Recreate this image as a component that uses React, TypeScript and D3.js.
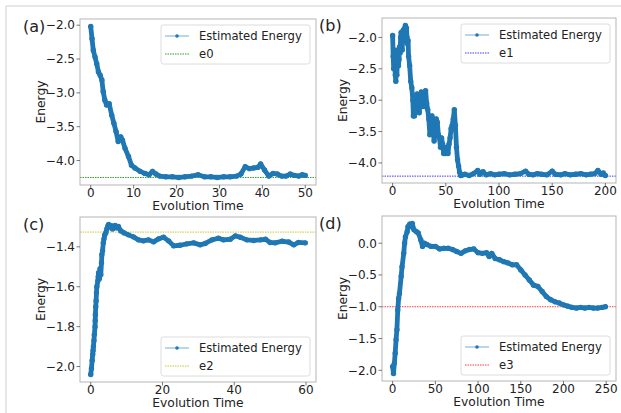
import React, { useEffect, useRef } from "react";
import * as d3 from "d3";

// [evolution time, estimated energy]
const seriesA: [number, number][] = [
  [0, -2.02], [0.3, -2.2], [0.6, -2.37], [1, -2.47], [1.4, -2.57], [1.8, -2.69], [2.2, -2.74],
  [2.6, -2.81], [2.9, -2.98], [3.3, -3.11], [3.7, -3.18], [4.3, -3.16], [4.9, -3.33], [5.4, -3.45],
  [5.9, -3.57], [6.4, -3.72], [7, -3.65], [7.4, -3.7], [8, -3.82], [8.8, -3.94], [9.5, -4.07],
  [10.3, -4.11], [11.5, -4.16], [12.6, -4.19], [13.6, -4.21], [14.4, -4.16], [15.2, -4.2],
  [16.1, -4.23], [17.5, -4.24], [19, -4.24], [20.5, -4.25], [22, -4.24], [23.5, -4.23], [25, -4.21],
  [26.5, -4.24], [28, -4.24], [29.5, -4.25], [31, -4.24], [32.5, -4.24], [34, -4.23], [35, -4.2],
  [36, -4.09], [37, -4.12], [38, -4.11], [39, -4.1], [39.6, -4.05], [40.5, -4.14], [41.5, -4.23],
  [42.5, -4.19], [43.5, -4.2], [44.5, -4.23], [45.5, -4.23], [46.5, -4.2], [47.5, -4.22],
  [48.5, -4.23], [49.3, -4.21], [50, -4.22],
];

const seriesB: [number, number][] = [
  [0, -1.97], [0.5, -2.3], [1, -2.5], [1.5, -2.2], [2, -2.4], [2.5, -2.6], [3, -2.7], [3.5, -2.5],
  [4, -2.6], [4.5, -2.35], [5, -2.2], [5.5, -2.45], [6, -2.35], [6.5, -2.15], [7, -2.25], [7.5, -2.0],
  [8, -1.92], [8.5, -2.1], [9, -2.2], [9.5, -1.95], [10, -1.88], [10.5, -2.05], [11, -2.0],
  [11.5, -1.85], [12, -1.81], [12.5, -1.9], [13, -1.85], [13.5, -2.0], [14, -2.1], [14.5, -2.05],
  [15, -2.3], [16, -2.45], [17, -2.7], [18, -2.8], [19, -3.0], [19.5, -3.25], [20, -3.1],
  [20.5, -3.25], [21, -3.05], [22, -3.15], [23, -2.9], [23.5, -3.05], [24, -3.0], [25, -3.2],
  [26, -3.0], [27, -2.87], [27.5, -3.0], [28, -3.1], [29, -2.95], [30, -3.1], [31, -2.85],
  [32, -3.05], [33, -3.15], [34, -3.3], [35, -3.55], [36, -3.3], [37, -3.25], [38, -3.45],
  [39, -3.65], [40, -3.5], [41, -3.3], [42, -3.35], [43, -3.55], [44, -3.6], [45, -3.75],
  [46, -3.6], [47, -3.7], [48, -3.85], [49, -3.8], [50, -3.85], [51, -3.75], [52, -3.85],
  [53, -3.7], [54, -3.6], [55, -3.45], [56, -3.4], [57, -3.3], [58, -3.15], [59, -3.4],
  [60, -3.75], [61, -3.95], [62, -4.05], [63, -4.15], [64, -4.2], [66, -4.19], [68, -4.18],
  [72, -4.2], [76, -4.17], [80, -4.12], [82, -4.18], [85, -4.14], [88, -4.19], [92, -4.17],
  [96, -4.19], [100, -4.18], [105, -4.17], [110, -4.19], [115, -4.18], [120, -4.17], [125, -4.13],
  [128, -4.18], [132, -4.19], [136, -4.17], [140, -4.18], [145, -4.19], [150, -4.13], [153, -4.18],
  [158, -4.19], [162, -4.17], [167, -4.19], [172, -4.18], [177, -4.17], [182, -4.19], [186, -4.18],
  [190, -4.17], [193, -4.12], [196, -4.18], [198, -4.16], [200, -4.2],
];

const seriesC: [number, number][] = [
  [0, -2.04], [0.2, -2.01], [0.4, -1.97], [0.55, -1.94], [0.65, -1.92], [0.75, -1.9], [0.9, -1.87],
  [1.0, -1.84], [1.2, -1.8], [1.25, -1.77], [1.3, -1.74], [1.4, -1.7], [1.5, -1.67], [1.6, -1.63],
  [1.7, -1.6], [2.0, -1.57], [2.1, -1.55], [2.2, -1.53], [2.4, -1.56], [2.6, -1.51], [2.8, -1.54],
  [3.0, -1.48], [3.1, -1.44], [3.3, -1.42], [3.5, -1.38], [3.7, -1.36], [3.9, -1.34], [4.2, -1.33],
  [4.5, -1.31], [4.8, -1.295], [5.0, -1.288], [5.4, -1.3], [5.8, -1.295], [6.1, -1.31], [6.5, -1.3],
  [6.8, -1.293], [7.3, -1.305], [7.7, -1.298], [8.4, -1.32], [9.3, -1.33], [10.5, -1.34],
  [11.9, -1.35], [13.3, -1.365], [14.7, -1.37], [16.1, -1.365], [17.5, -1.375], [18.9, -1.36],
  [20.3, -1.352], [21.7, -1.37], [23.1, -1.395], [24.9, -1.392], [26.8, -1.385], [28.7, -1.38],
  [30.5, -1.39], [31.9, -1.383], [33.8, -1.365], [35.6, -1.357], [37, -1.365], [38.9, -1.362],
  [40.3, -1.345], [41.7, -1.352], [43.5, -1.365], [45.4, -1.368], [47.3, -1.365], [48.7, -1.362],
  [50, -1.378], [51.4, -1.38], [53.3, -1.372], [55.2, -1.376], [56.6, -1.39], [57.9, -1.378],
  [59.8, -1.38],
];

const seriesD: [number, number][] = [
  [0, -1.94], [1, -2.05], [2, -1.89], [3, -1.73], [4, -1.52], [5, -1.36], [6, -1.05], [7, -0.87],
  [8, -0.79], [10, -0.52], [11, -0.37], [13, -0.16], [14, 0.0], [15, 0.1], [17, 0.18], [18, 0.26],
  [20, 0.3], [22, 0.26], [23, 0.31], [25, 0.21], [28, 0.18], [30, 0.16], [33, 0.05], [35, -0.05],
  [37, 0.0], [40, -0.02], [45, -0.05], [50, -0.05], [55, -0.09], [60, -0.08], [65, -0.08],
  [70, -0.1], [75, -0.13], [80, -0.16], [85, -0.12], [90, -0.1], [95, -0.09], [100, -0.15],
  [105, -0.16], [110, -0.15], [113, -0.21], [116, -0.16], [120, -0.24], [125, -0.26], [130, -0.29],
  [135, -0.31], [140, -0.34], [145, -0.34], [150, -0.42], [155, -0.5], [160, -0.58], [165, -0.66],
  [170, -0.68], [175, -0.76], [180, -0.84], [185, -0.89], [190, -0.92], [195, -0.94], [200, -0.97],
  [205, -0.99], [210, -1.01], [215, -1.02], [220, -1.01], [225, -1.02], [230, -1.01], [235, -1.02],
  [240, -1.02], [245, -1.01], [249, -1.0],
];

// exact energies (horizontal reference lines)
const exactEnergies = [-4.25, -4.21, -1.326, -1.0];
const exactNames = ["e0", "e1", "e2", "e3"];
const exactColors = ["#2ca02c", "#3b3bff", "#c8c832", "#ff3b3b"];

const panelLabels = ["(a)", "(b)", "(c)", "(d)"];
const xTicks = [
  [0, 10, 20, 30, 40, 50],
  [0, 50, 100, 150, 200],
  [0, 20, 40, 60],
  [0, 50, 100, 150, 200, 250],
];
const yTicks = [
  [-2.0, -2.5, -3.0, -3.5, -4.0],
  [-2.0, -2.5, -3.0, -3.5, -4.0],
  [-1.4, -1.6, -1.8, -2.0],
  [0.0, -0.5, -1.0, -1.5, -2.0],
];
const seriesName = "Estimated Energy";
const xLabel = "Evolution Time";
const yLabel = "Energy";

const allSeries = [seriesA, seriesB, seriesC, seriesD];

const boxes = [
  { x: 80, y: 19, w: 236, h: 166, legend: "top" },
  { x: 382, y: 18, w: 234, h: 165, legend: "top" },
  { x: 80, y: 217, w: 236, h: 165, legend: "bottom" },
  { x: 382, y: 216, w: 234, h: 165, legend: "bottom" },
];

const BLUE = "#1f77b4";
const FONT = "DejaVu Sans, sans-serif";

const fmt = (v: number) => d3.format(".1f")(v).replace("-", "\u2212");

const App = () => {
  const ref = useRef<SVGSVGElement | null>(null);

  useEffect(() => {
    const svg = d3.select(ref.current);
    svg.selectAll("*").remove();

    // outer figure frame
    svg.append("path")
      .attr("d", "M6,413 V6 H621")
      .attr("fill", "none")
      .attr("stroke", "#cfcfcf")
      .attr("stroke-width", 1);

    allSeries.forEach((data, i) => {
      const b = boxes[i];
      const [x0, x1] = d3.extent(data, (d) => d[0]) as [number, number];
      const [y0, y1] = d3.extent(data, (d) => d[1]) as [number, number];
      const mx = (x1 - x0) * 0.05;
      const my = (y1 - y0) * 0.05;
      const x = d3.scaleLinear().domain([x0 - mx, x1 + mx]).range([b.x, b.x + b.w]);
      const y = d3.scaleLinear().domain([y0 - my, y1 + my]).range([b.y + b.h, b.y]);

      const g = svg.append("g");
      const clipId = `clip${i}`;
      g.append("clipPath").attr("id", clipId)
        .append("rect").attr("x", b.x).attr("y", b.y).attr("width", b.w).attr("height", b.h);

      const plot = g.append("g").attr("clip-path", `url(#${clipId})`);

      // exact energy line
      plot.append("line")
        .attr("x1", b.x).attr("x2", b.x + b.w)
        .attr("y1", y(exactEnergies[i])).attr("y2", y(exactEnergies[i]))
        .attr("stroke", exactColors[i])
        .attr("stroke-width", 1)
        .attr("stroke-dasharray", "1.5,1");

      // estimated energy
      const line = d3.line<[number, number]>().x((d) => x(d[0])).y((d) => y(d[1]));
      plot.append("path")
        .datum(data)
        .attr("d", line)
        .attr("fill", "none")
        .attr("stroke", BLUE)
        .attr("stroke-width", 4.8)
        .attr("stroke-linejoin", "round")
        .attr("stroke-linecap", "round");
      plot.selectAll("circle.pt")
        .data(data)
        .join("circle")
        .attr("class", "pt")
        .attr("cx", (d) => x(d[0]))
        .attr("cy", (d) => y(d[1]))
        .attr("r", 2.7)
        .attr("fill", BLUE);

      // frame
      g.append("rect")
        .attr("x", b.x).attr("y", b.y).attr("width", b.w).attr("height", b.h)
        .attr("fill", "none").attr("stroke", "#b5b5b5").attr("stroke-width", 1);

      // x ticks
      xTicks[i].forEach((t) => {
        const px = x(t);
        g.append("line").attr("x1", px).attr("x2", px)
          .attr("y1", b.y + b.h).attr("y2", b.y + b.h + 3.5)
          .attr("stroke", "#555").attr("stroke-width", 0.8);
        g.append("text").attr("x", px).attr("y", b.y + b.h + 12)
          .attr("text-anchor", "middle")
          .attr("font-family", FONT).attr("font-size", 12).attr("fill", "#222")
          .text(String(t));
      });
      // y ticks
      yTicks[i].forEach((t) => {
        const py = y(t);
        g.append("line").attr("x1", b.x - 3.5).attr("x2", b.x)
          .attr("y1", py).attr("y2", py)
          .attr("stroke", "#555").attr("stroke-width", 0.8);
        g.append("text").attr("x", b.x - 5).attr("y", py + 4.3)
          .attr("text-anchor", "end")
          .attr("font-family", FONT).attr("font-size", 12).attr("fill", "#222")
          .text(fmt(t));
      });

      // axis labels
      g.append("text")
        .attr("x", b.x + b.w / 2).attr("y", b.y + b.h + 25)
        .attr("text-anchor", "middle")
        .attr("font-family", FONT).attr("font-size", 12.3).attr("fill", "#222")
        .text(xLabel);
      g.append("text")
        .attr("transform", `translate(${b.x - 35},${b.y + b.h / 2}) rotate(-90)`)
        .attr("text-anchor", "middle")
        .attr("font-family", FONT).attr("font-size", 12.3).attr("fill", "#222")
        .text(yLabel);

      // panel label
      g.append("text")
        .attr("x", i % 2 === 0 ? 23 : 319).attr("y", b.y + 12.5)
        .attr("font-family", FONT).attr("font-size", 16).attr("fill", "#222")
        .text(panelLabels[i]);

      // legend
      const lw = 149;
      const lh = 39;
      const lx = b.x + b.w - 6 - lw;
      const ly = b.legend === "top" ? b.y + 6 : b.y + b.h - 6 - lh;
      const lg = g.append("g");
      lg.append("rect")
        .attr("x", lx).attr("y", ly).attr("width", lw).attr("height", lh)
        .attr("rx", 2.5)
        .attr("fill", "white").attr("fill-opacity", 0.85)
        .attr("stroke", "#dcdcdc").attr("stroke-width", 1);
      const r1 = ly + 11;
      const r2 = ly + 29;
      lg.append("line").attr("x1", lx + 4).attr("x2", lx + 28)
        .attr("y1", r1).attr("y2", r1)
        .attr("stroke", BLUE).attr("stroke-opacity", 0.6).attr("stroke-width", 1);
      lg.append("circle").attr("cx", lx + 16).attr("cy", r1).attr("r", 1.8).attr("fill", BLUE);
      lg.append("text").attr("x", lx + 38).attr("y", r1 + 4.2)
        .attr("font-family", FONT).attr("font-size", 11.6).attr("fill", "#222")
        .text(seriesName);
      lg.append("line").attr("x1", lx + 4).attr("x2", lx + 28)
        .attr("y1", r2).attr("y2", r2)
        .attr("stroke", exactColors[i]).attr("stroke-width", 1)
        .attr("stroke-dasharray", "1.5,1");
      lg.append("text").attr("x", lx + 38).attr("y", r2 + 4.2)
        .attr("font-family", FONT).attr("font-size", 11.6).attr("fill", "#222")
        .text(exactNames[i]);
    });
  });

  return (
    <div style={{ position: "absolute", left: 0, top: 0, width: 621, height: 413, background: "white" }}>
      <svg ref={ref} width={621} height={413} style={{ display: "block" }} />
    </div>
  );
};

export default App;
